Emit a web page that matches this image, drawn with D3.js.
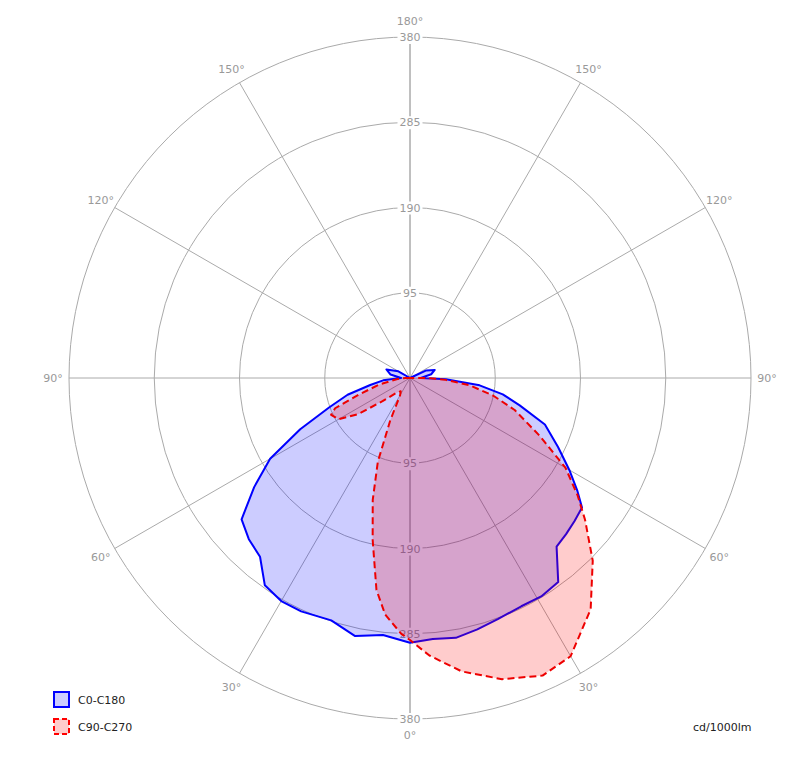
<!DOCTYPE html>
<html><head><meta charset="utf-8">
<script src="https://cdn.jsdelivr.net/npm/d3@7"></script>
<style>body{margin:0;background:#fff}</style>
</head><body><svg id="chart" width="797" height="762"></svg>
<script>
// signed angle from nadir (negative = left half), value in cd/1000lm
var c0_angles = [-180,-130,-120,-110,-100,-90,-85,-80,-75,-70,-65,-60,-55,-50,-45,-40,-35,-30,-25,-18,-12,-6,0,5,10,15,20,26,31,36,41,45,49,53,56,60,65,71,76,80,84,88,90,100,108,115,125,180]
var c0_values = [0,0,15,28,22,10,30,45,72,96,135,180,212,245,254,260,282,287,287,284,294,288,295,292,294,290,286,283,284,281,249,246,243,240,225,205,182,159,126,105,78,40,12,24,29,20,0,0]
var c90_angles = [-180,-95,-90,-85,-78,-72,-68,-65,-60,-55,-50,-42,-35,-30,-25,-21,-17,-13,-9,-6,-2,0,4,10,17,24,30,38,45,51,55,60,66,73,78,83,87,90,95,180]
var c90_values = [0,0,5,15,35,60,90,97,92,70,40,22,18,22,52,100,142,185,239,265,285,292,310,332,351,363,358,327,288,251,228,200,158,122,95,67,40,20,0,0]
var ring_values = [95,190,285,380]
var spoke_angles = [0,30,60,90,120,150,180]
var series_names = ["C0-C180","C90-C270"]

var cx = 410, cy = 378, R = 341
var svg = d3.select("#chart")
var r = d3.scaleLinear().domain([0,380]).range([0,R])
var g = svg.append("g").attr("transform","translate("+cx+","+cy+")")
var grey = "#aaa", font = "DejaVu Sans, Verdana, sans-serif"

// grid
g.selectAll(".ring").data(ring_values).join("circle")
  .attr("r", d => r(d)).attr("fill","none").attr("stroke",grey).attr("stroke-width",1)
spoke_angles.forEach(function(a){
  var t = a*Math.PI/180
  ;[1,-1].forEach(function(s){
    g.append("line").attr("x1",0).attr("y1",0)
      .attr("x2", s*R*Math.sin(t)).attr("y2", R*Math.cos(t))
      .attr("stroke",grey).attr("stroke-width",1)
  })
})

// ring labels on white patches, under the translucent fills
var labels = g.append("g")
ring_values.forEach(function(v){
  [-1,1].forEach(function(s){
    var t = labels.append("text").attr("x",0).attr("y",s*r(v)+4).attr("text-anchor","middle")
      .attr("font-family",font).attr("font-size",11).attr("fill","#999").text(v)
    var bb = t.node().getBBox()
    labels.insert("rect","text").attr("x",bb.x-2).attr("y",bb.y).attr("width",bb.width+4).attr("height",bb.height)
      .attr("fill","#fff")
  })
})
labels.selectAll("text").raise()

// curves
function toPts(angles, values){
  return angles.map((a,i) => [Math.PI - a*Math.PI/180, r(values[i])])
}
var line = d3.lineRadial().angle(d => d[0]).radius(d => d[1]).curve(d3.curveLinearClosed)
g.append("path").attr("d", line(toPts(c0_angles,c0_values)))
  .attr("fill","rgba(0,0,255,0.2)").attr("stroke","#0000ff").attr("stroke-width",2).attr("stroke-linejoin","round")
g.append("path").attr("d", line(toPts(c90_angles,c90_values)))
  .attr("fill","rgba(255,0,0,0.2)").attr("stroke","#ee0000").attr("stroke-width",2)
  .attr("stroke-dasharray","7,4").attr("stroke-linejoin","round")

// angle labels
var LR = 357
spoke_angles.forEach(function(a){
  var t = a*Math.PI/180
  var sides = (a==0||a==180) ? [1] : [1,-1]
  sides.forEach(function(s){
    g.append("text").attr("x", s*LR*Math.sin(t)).attr("y", LR*Math.cos(t)+4)
      .attr("text-anchor","middle").attr("font-family",font).attr("font-size",11)
      .attr("fill","#999").text(a+"°")
  })
})

// legend
var legend = svg.append("g")
series_names.forEach(function(n,i){
  var y = 692 + i*27
  legend.append("rect").attr("x",54).attr("y",y).attr("width",15).attr("height",15)
    .attr("fill", i==0 ? "#ccccff" : "#ffcccc").attr("stroke", i==0 ? "#0000ff" : "#ff0000")
    .attr("stroke-width",2).attr("stroke-dasharray", i==0 ? null : "5,3")
  legend.append("text").attr("x",78).attr("y",y+12).attr("font-family",font).attr("font-size",11)
    .attr("fill","#222").text(n)
})
svg.append("text").attr("x",693).attr("y",731).attr("font-family",font).attr("font-size",11)
  .attr("fill","#222").text("cd/1000lm")
</script></body></html>
